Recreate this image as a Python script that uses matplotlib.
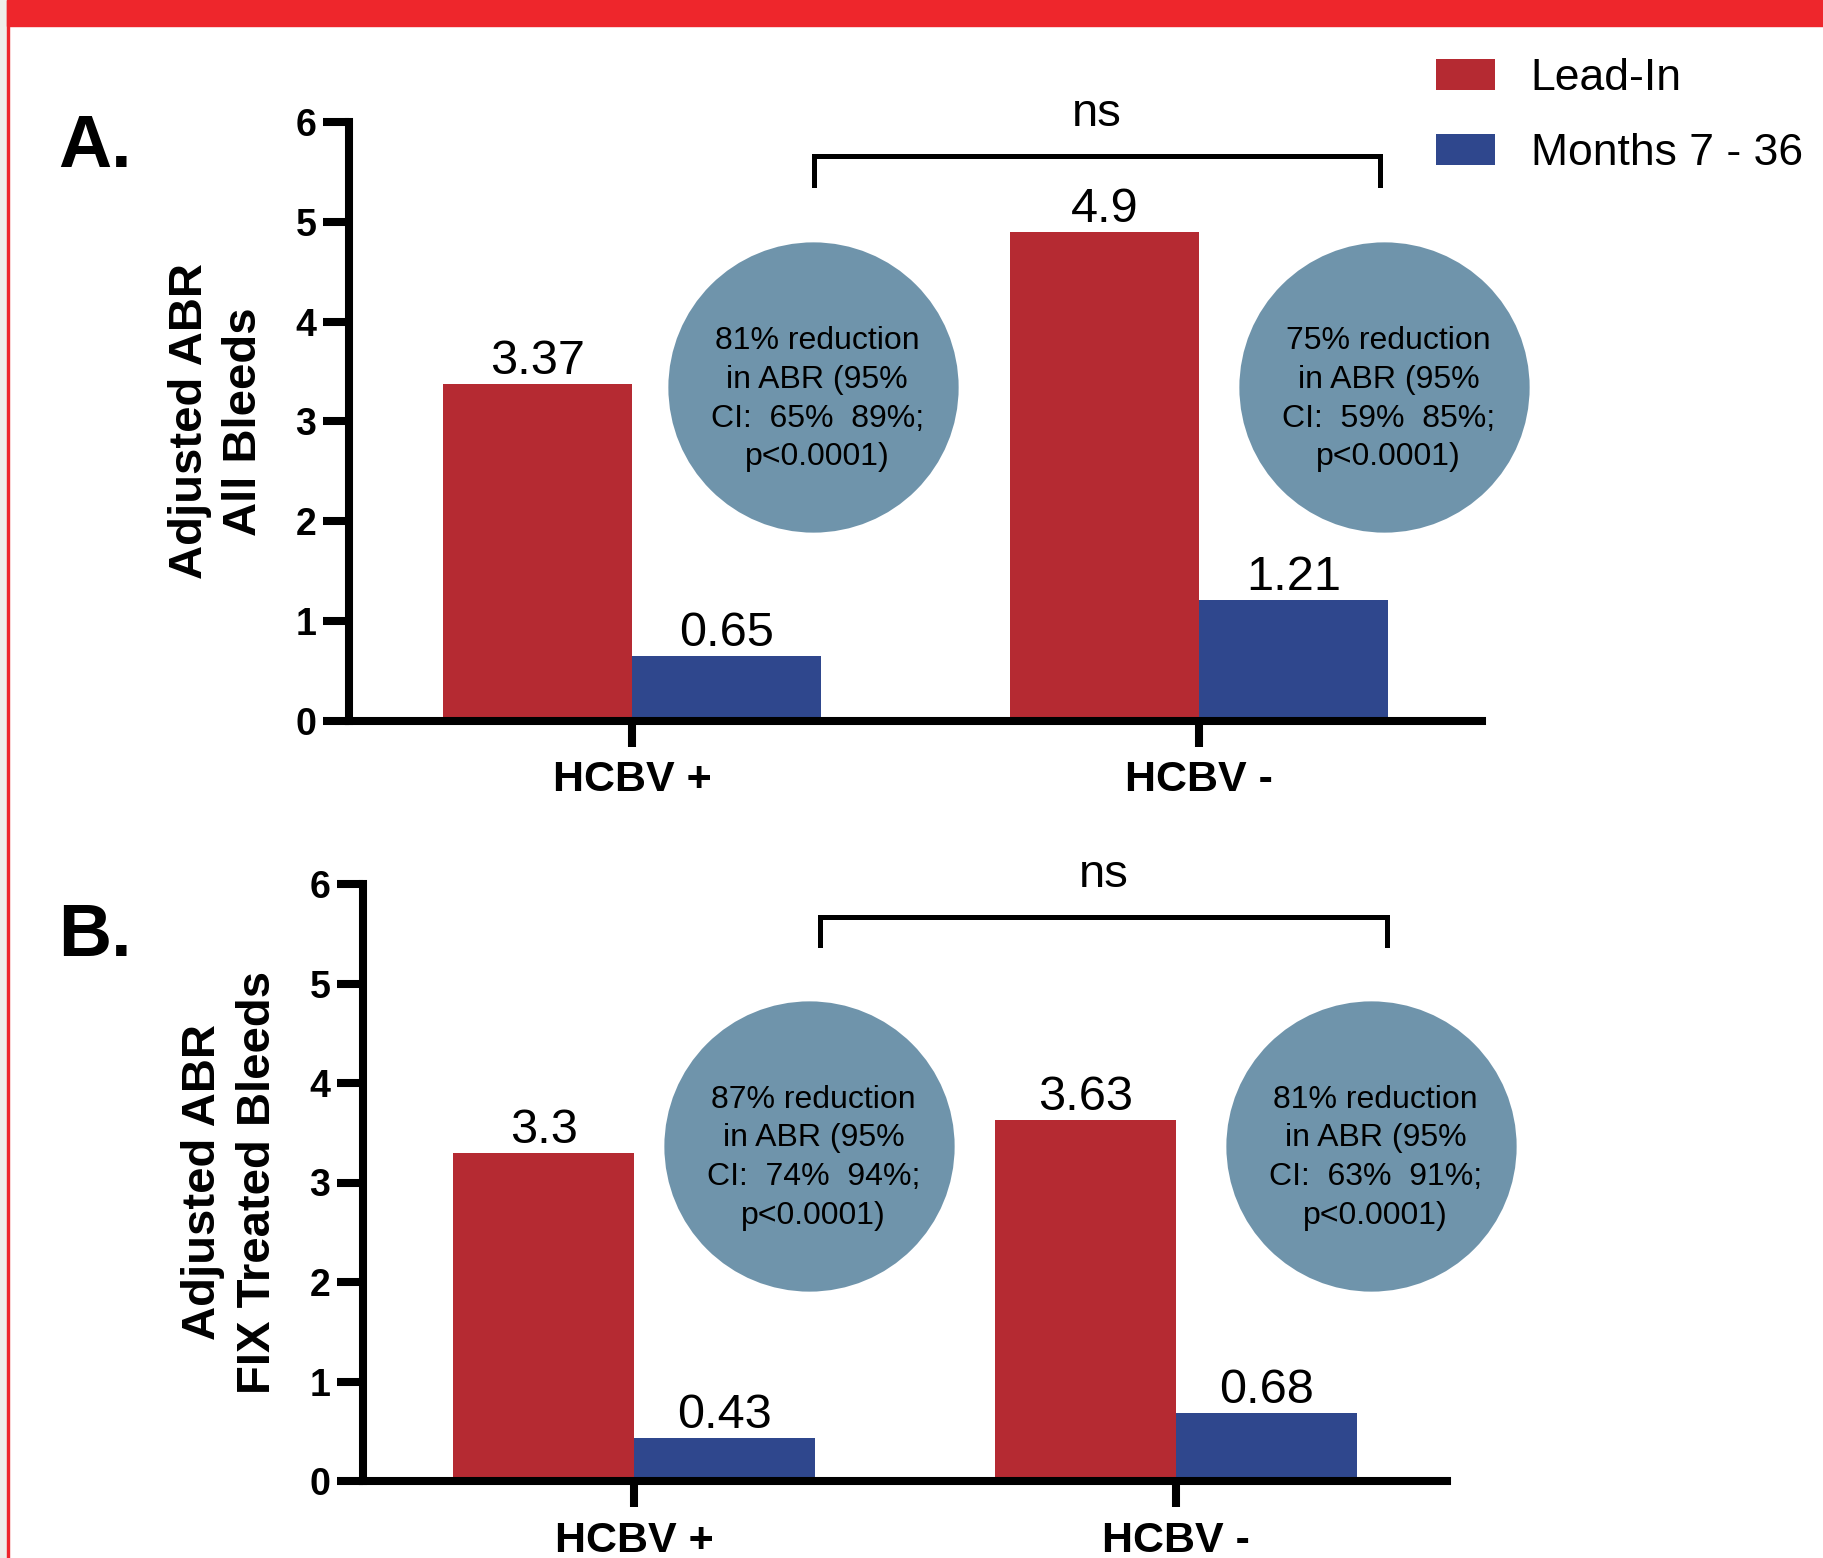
import matplotlib
matplotlib.use("Agg")
import matplotlib.pyplot as plt
from matplotlib.patches import Rectangle, Patch

plt.rcParams['font.family'] = ['Liberation Sans', 'DejaVu Sans']

# ---------------- data ----------------
categories = ['HCBV +', 'HCBV -']
series_names = ['Lead-In', 'Months 7 - 36']
a_lead = [3.37, 4.9]
a_months = [0.65, 1.21]
b_lead = [3.3, 3.63]
b_months = [0.43, 0.68]
a_notes = ['81% reduction\nin ABR (95%\nCI:  65%  89%;\np<0.0001)',
           '75% reduction\nin ABR (95%\nCI:  59%  85%;\np<0.0001)']
b_notes = ['87% reduction\nin ABR (95%\nCI:  74%  94%;\np<0.0001)',
           '81% reduction\nin ABR (95%\nCI:  63%  91%;\np<0.0001)']
y_ticks = [0, 1, 2, 3, 4, 5, 6]
a_ylabel = 'Adjusted ABR\nAll Bleeds'
b_ylabel = 'Adjusted ABR\nFIX Treated Bleeds'
sig_text = 'ns'

# ---------------- style ----------------
RED = '#B52A32'
BLUE = '#2F478D'
CIRCLE = '#6F94AB'
BAND = '#EE262C'
LW = 5.8
TICKLEN = 18.5

W, H = 1824, 1558
fig = plt.figure(figsize=(W / 100, H / 100), dpi=100)

# frame decorations
fig.patches.append(Rectangle((0, 0), 7 / W, 1, transform=fig.transFigure,
                             color='#EFEEEA', zorder=0))
fig.patches.append(Rectangle((7 / W, 0), 2.5 / W, 1, transform=fig.transFigure,
                             color=BAND, zorder=1))
fig.patches.append(Rectangle((7 / W, 1 - 26 / H), 1, 26 / H, transform=fig.transFigure,
                             color=BAND, zorder=1))


def panel(rect, lead, months, notes, ylabel, label_xy, circle_x, circle_y,
          bracket, ns_xy):
    ax = fig.add_axes(rect)
    w = 1 / 3
    xs = list(range(len(categories)))
    b1 = ax.bar([x - w / 2 for x in xs], lead, width=w, color=RED, zorder=2)
    b2 = ax.bar([x + w / 2 for x in xs], months, width=w, color=BLUE, zorder=2)
    ax.bar_label(b1, labels=[f'{v:g}' for v in lead], padding=0, fontsize=35)
    ax.bar_label(b2, labels=[f'{v:g}' for v in months], padding=0, fontsize=35)

    ax.set_xlim(-0.5, 1.5)
    ax.set_ylim(0, 6)
    ax.set_yticks(y_ticks)
    ax.set_xticks(xs)
    ax.set_xticklabels(categories, fontsize=31, fontweight='bold')
    ax.tick_params(axis='y', labelsize=27, length=TICKLEN, width=LW, pad=5)
    ax.tick_params(axis='x', length=TICKLEN, width=LW, pad=10)
    for t in ax.get_yticklabels():
        t.set_fontweight('bold')
    for s in ['top', 'right']:
        ax.spines[s].set_visible(False)
    for s in ['left', 'bottom']:
        ax.spines[s].set_linewidth(LW)
        ax.spines[s].set_capstyle('projecting')
        ax.spines[s].set_zorder(3)

    ax.set_ylabel(ylabel, fontsize=34, fontweight='bold', va='center',
                  linespacing=1.32)
    ax.yaxis.set_label_coords(*label_xy)

    for cx, note in zip(circle_x, notes):
        ax.plot([cx], [circle_y], 'o', ms=209, color=CIRCLE, mec='none',
                zorder=4, clip_on=False)
        ax.text(cx + 0.008, circle_y - 0.12, note, ha='center', va='center',
                fontsize=23, linespacing=1.38, zorder=5)

    x0, x1, ylo, yhi = bracket
    ax.plot([x0, x0, x1, x1], [ylo, yhi, yhi, ylo], color='black', lw=3.6,
            solid_joinstyle='miter', clip_on=False, zorder=5)
    ax.text(ns_xy[0], ns_xy[1], sig_text, ha='center', va='baseline',
            fontsize=34, zorder=5)
    return ax


axA = panel([349 / W, 1 - 720.5 / H, 1133.5 / W, 598.5 / H], a_lead, a_months,
            a_notes, a_ylabel, (-0.1165, 0.5), [0.318, 1.326], 3.34,
            (0.32, 1.32, 5.37, 5.66), (0.82, 5.96))
axB = panel([363 / W, 1 - 1481 / H, 1084 / W, 597 / H], b_lead, b_months,
            b_notes, b_ylabel, (-0.1225, 0.5), [0.323, 1.36], 3.37,
            (0.344, 1.389, 5.39, 5.67), (0.866, 5.97))

fig.text(58 / W, 1 - 167 / H, 'A.', fontsize=53, fontweight='bold',
         ha='left', va='baseline')
fig.text(58 / W, 1 - 956 / H, 'B.', fontsize=53, fontweight='bold',
         ha='left', va='baseline')

handles = [Patch(facecolor=RED, edgecolor='none'),
           Patch(facecolor=BLUE, edgecolor='none')]
fig.legend(handles, series_names, loc='upper left',
           bbox_to_anchor=(1436 / W, 1 - 58 / H), frameon=False, fontsize=32,
           borderpad=0, borderaxespad=0, handlelength=1.33, handleheight=0.68,
           handletextpad=0.8, labelspacing=0.77)

fig.savefig('out.png', dpi=100)
